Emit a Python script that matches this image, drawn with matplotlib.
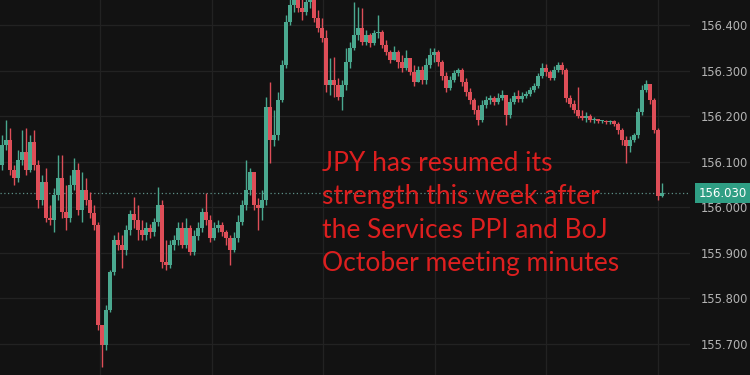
import numpy as np
import matplotlib.pyplot as plt

# USD/JPY intraday candles
first_open = 156.092
close = [156.136, 156.147, 156.081, 156.064, 156.103, 156.121, 156.081, 156.143, 156.092, 156.015,
         156.055, 155.976, 155.971, 156.026, 156.064, 155.989, 155.976, 156.048, 156.081, 155.993,
         156.037, 156.015, 155.987, 155.960, 155.741, 155.697, 155.774, 155.857, 155.927, 155.916,
         155.906, 155.949, 155.985, 155.971, 155.949, 155.938, 155.954, 155.945, 155.967, 156.004,
         155.879, 155.873, 155.916, 155.927, 155.954, 155.916, 155.954, 155.901, 155.936, 155.954,
         155.989, 155.971, 155.932, 155.954, 155.960, 155.945, 155.932, 155.906, 155.932, 155.967,
         156.004, 156.037, 156.077, 156.004, 155.998, 156.015, 156.220, 156.147, 156.158, 156.235,
         156.312, 156.407, 156.444, 156.466, 156.437, 156.429, 156.451, 156.462, 156.415, 156.393,
         156.371, 156.268, 156.279, 156.268, 156.242, 156.268, 156.319, 156.349, 156.378, 156.393,
         156.363, 156.378, 156.360, 156.382, 156.385, 156.356, 156.341, 156.323, 156.341, 156.319,
         156.306, 156.328, 156.297, 156.275, 156.301, 156.279, 156.312, 156.334, 156.341, 156.319,
         156.288, 156.262, 156.279, 156.295, 156.301, 156.275, 156.253, 156.235, 156.213, 156.191,
         156.224, 156.235, 156.240, 156.231, 156.240, 156.246, 156.202, 156.231, 156.244, 156.237,
         156.244, 156.248, 156.257, 156.266, 156.288, 156.306, 156.297, 156.284, 156.301, 156.312,
         156.301, 156.240, 156.226, 156.213, 156.200, 156.196, 156.200, 156.191, 156.193, 156.189,
         156.189, 156.187, 156.189, 156.182, 156.169, 156.147, 156.134, 156.147, 156.158, 156.209,
         156.257, 156.270, 156.235, 156.169, 156.024, 156.030]
high = [156.158, 156.191, 156.174, 156.092, 156.125, 156.169, 156.174, 156.158, 156.169, 156.103,
        156.070, 156.086, 156.004, 156.042, 156.114, 156.114, 156.048, 156.070, 156.108, 156.097,
        156.077, 156.064, 156.033, 156.004, 155.967, 155.741, 155.785, 155.862, 155.938, 155.945,
        155.938, 155.960, 155.993, 156.022, 156.004, 155.971, 155.967, 155.963, 155.976, 156.044,
        156.015, 155.927, 155.927, 155.938, 155.967, 155.967, 155.976, 155.960, 155.949, 155.967,
        155.998, 156.031, 155.982, 155.967, 155.971, 155.967, 155.949, 155.938, 155.945, 155.982,
        156.015, 156.103, 156.086, 156.064, 156.020, 156.037, 156.242, 156.275, 156.213, 156.253,
        156.323, 156.422, 156.477, 156.499, 156.488, 156.466, 156.481, 156.488, 156.473, 156.433,
        156.415, 156.389, 156.328, 156.330, 156.284, 156.279, 156.349, 156.363, 156.451, 156.440,
        156.437, 156.389, 156.382, 156.389, 156.422, 156.389, 156.367, 156.345, 156.354, 156.345,
        156.334, 156.345, 156.328, 156.312, 156.310, 156.310, 156.328, 156.349, 156.349, 156.345,
        156.323, 156.297, 156.288, 156.301, 156.306, 156.306, 156.284, 156.262, 156.240, 156.224,
        156.235, 156.244, 156.246, 156.244, 156.251, 156.257, 156.246, 156.240, 156.253, 156.257,
        156.253, 156.255, 156.264, 156.273, 156.295, 156.317, 156.314, 156.301, 156.310, 156.319,
        156.319, 156.306, 156.246, 156.235, 156.264, 156.213, 156.209, 156.204, 156.198, 156.193,
        156.191, 156.191, 156.191, 156.191, 156.187, 156.174, 156.156, 156.156, 156.163, 156.218,
        156.268, 156.279, 156.270, 156.240, 156.174, 156.053]
low = [156.081, 156.125, 156.070, 156.048, 156.055, 156.092, 156.070, 156.077, 156.081, 155.998,
       156.004, 155.967, 155.960, 155.945, 156.015, 155.976, 155.949, 155.967, 156.037, 155.982,
       155.967, 156.004, 155.976, 155.949, 155.730, 155.648, 155.686, 155.769, 155.851, 155.906,
       155.866, 155.895, 155.938, 155.954, 155.927, 155.927, 155.927, 155.932, 155.936, 155.958,
       155.866, 155.862, 155.866, 155.906, 155.916, 155.910, 155.910, 155.895, 155.895, 155.927,
       155.945, 155.960, 155.923, 155.927, 155.945, 155.936, 155.916, 155.873, 155.901, 155.923,
       155.960, 155.993, 156.026, 155.993, 155.949, 155.971, 156.004, 156.097, 156.134, 156.147,
       156.231, 156.306, 156.400, 156.429, 156.429, 156.411, 156.422, 156.437, 156.407, 156.385,
       156.363, 156.253, 156.246, 156.242, 156.235, 156.213, 156.257, 156.306, 156.345, 156.367,
       156.356, 156.356, 156.352, 156.356, 156.371, 156.349, 156.334, 156.317, 156.323, 156.306,
       156.297, 156.301, 156.290, 156.266, 156.275, 156.270, 156.270, 156.306, 156.319, 156.310,
       156.279, 156.253, 156.257, 156.275, 156.288, 156.266, 156.244, 156.226, 156.204, 156.180,
       156.187, 156.218, 156.226, 156.224, 156.226, 156.235, 156.180, 156.196, 156.226, 156.231,
       156.231, 156.240, 156.244, 156.253, 156.262, 156.284, 156.288, 156.279, 156.279, 156.297,
       156.292, 156.231, 156.220, 156.207, 156.196, 156.191, 156.187, 156.187, 156.185, 156.185,
       156.185, 156.182, 156.182, 156.178, 156.160, 156.136, 156.097, 156.121, 156.143, 156.152,
       156.202, 156.253, 156.226, 156.163, 156.015, 156.022]
last_price = 156.030
price_ticks = [155.7, 155.8, 155.9, 156.0, 156.1, 156.2, 156.3, 156.4]
note = ("JPY has resumed its\nstrength this week after\n"
        "the Services PPI and BoJ\nOctober meeting minutes")

bg = '#121212'
green = '#4aa88f'
red = '#de4e58'

opn = np.array([first_open] + close[:-1])
cls = np.array(close)
hi = np.array(high)
lo = np.array(low)
idx = np.arange(len(cls))
up = cls >= opn
cols = np.where(up, green, red)

fig = plt.figure(figsize=(7.5, 3.75), dpi=100, facecolor=bg)
ax = fig.add_axes([0, 0, 690/750, 1])
ax.set_facecolor(bg)

# grid
for p in price_ticks:
    ax.axhline(p, color='#222222', lw=0.9, zorder=0)
for gx in [24.5, 52.4, 80.3, 108.2, 136.1, 164.0]:
    ax.axvline(gx, color='#222222', lw=0.9, zorder=0)

# candles
ax.vlines(idx, lo, hi, colors=cols, lw=1.0, zorder=2)
body = np.maximum(np.abs(cls - opn), 0.0018)
ax.bar(idx, body, bottom=np.minimum(opn, cls), width=0.82, color=cols,
       linewidth=0, zorder=3)

# last price line
ax.axhline(last_price, color='#5c8f86', lw=0.9, ls=(0, (1, 2)), zorder=1)

ax.set_xlim(-0.5, 172)
ax.set_ylim(155.631, 156.455)
for s in ax.spines.values():
    s.set_visible(False)
ax.set_xticks([])
ax.yaxis.tick_right()
ax.set_yticks(price_ticks)
ax.set_yticklabels(['%.3f' % p for p in price_ticks])
ax.tick_params(axis='y', length=0, pad=8, labelsize=8.3, labelcolor='#b4b4b4')

ax.text(1 + 33/690, last_price, '%.3f' % last_price, transform=ax.get_yaxis_transform(),
        ha='center', va='center', fontsize=8.5, color='white', zorder=5,
        bbox=dict(boxstyle='square,pad=0.3', fc='#2f9e84', ec='none'))

fig.text(322/750, 1 - 151/375, note, ha='left', va='top', color='#dd1f1f',
         fontsize=19, family='Lato', linespacing=1.42)

fig.savefig('out.png', dpi=100, facecolor=bg)
